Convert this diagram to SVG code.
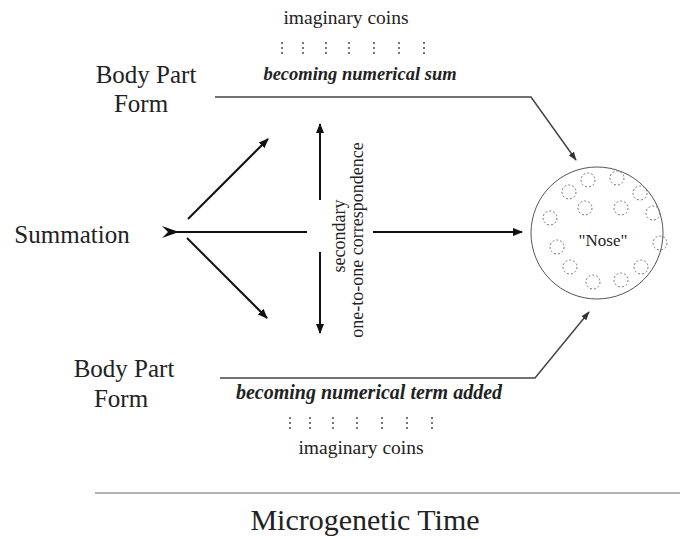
<svg xmlns="http://www.w3.org/2000/svg" width="681" height="539" viewBox="0 0 681 539">
<defs>
<style>
.t{font-family:"Liberation Serif","Times New Roman",serif;fill:#222}
.bi{font-family:"Liberation Serif","Times New Roman",serif;font-weight:bold;font-style:italic;fill:#222}
.ar{stroke:#111;stroke-width:2;fill:none}
.cn{stroke:#444;stroke-width:1.5;fill:none}
.dc{fill:none;stroke:#777;stroke-width:1;stroke-dasharray:2,2}
.dt{stroke:#555;stroke-width:1.6;stroke-dasharray:2,3}
</style>
<marker id="ah" viewBox="0 0 10 10" refX="9" refY="5" markerWidth="10" markerHeight="10" markerUnits="userSpaceOnUse" orient="auto">
<path d="M0,1 L10,5 L0,9 Z" fill="#111"/>
</marker>
<marker id="ah2" viewBox="0 0 10 10" refX="9" refY="5" markerWidth="9" markerHeight="9" markerUnits="userSpaceOnUse" orient="auto">
<path d="M0,1.5 L10,5 L0,8.5 Z" fill="#333"/>
</marker>
</defs>
<rect width="681" height="539" fill="#fff"/>

<g id="body-part-top">
<text class="t" x="146" y="83" font-size="25" text-anchor="middle">Body Part</text>
<text class="t" x="141" y="112" font-size="25" text-anchor="middle">Form</text>
</g>
<g id="body-part-bottom">
<text class="t" x="124" y="377" font-size="25" text-anchor="middle">Body Part</text>
<text class="t" x="121" y="407" font-size="25" text-anchor="middle">Form</text>
</g>
<g id="summation">
<text class="t" x="72" y="243" font-size="25" text-anchor="middle">Summation</text>
<path d="M162,226 L179,232 L162,238 L168,232 Z" fill="#111"/>
</g>

<g id="coins-top">
<text class="t" x="346" y="24" font-size="19.5" text-anchor="middle">imaginary coins</text>
<g class="dt">
<line x1="282" y1="42" x2="282" y2="55"/>
<line x1="303" y1="42" x2="303" y2="55"/>
<line x1="326" y1="42" x2="326" y2="55"/>
<line x1="349" y1="42" x2="349" y2="55"/>
<line x1="374" y1="42" x2="374" y2="55"/>
<line x1="399" y1="42" x2="399" y2="55"/>
<line x1="424" y1="42" x2="424" y2="55"/>
</g>
<text class="bi" x="360" y="80" font-size="18.5" text-anchor="middle">becoming numerical sum</text>
</g>

<g id="coins-bottom">
<text class="bi" x="369" y="399" font-size="20" text-anchor="middle">becoming numerical term added</text>
<g class="dt">
<line x1="290" y1="417" x2="290" y2="430"/>
<line x1="310" y1="417" x2="310" y2="430"/>
<line x1="333" y1="417" x2="333" y2="430"/>
<line x1="357" y1="417" x2="357" y2="430"/>
<line x1="382" y1="417" x2="382" y2="430"/>
<line x1="407" y1="417" x2="407" y2="430"/>
<line x1="432" y1="417" x2="432" y2="430"/>
</g>
<text class="t" x="361" y="454" font-size="19.5" text-anchor="middle">imaginary coins</text>
</g>

<g id="correspondence">
<text class="t" font-size="18" text-anchor="middle" transform="translate(345,236) rotate(-90)">secondary</text>
<text class="t" font-size="18" text-anchor="middle" transform="translate(363,240) rotate(-90)">one-to-one correspondence</text>
</g>

<g id="nose">
<circle cx="597" cy="233" r="66" fill="none" stroke="#555" stroke-width="1"/>
<g class="dc">
<circle cx="588" cy="180" r="7"/>
<circle cx="617" cy="178" r="7"/>
<circle cx="569" cy="192" r="7"/>
<circle cx="640" cy="193" r="7"/>
<circle cx="585" cy="208" r="7"/>
<circle cx="621" cy="208" r="7"/>
<circle cx="550" cy="218" r="7"/>
<circle cx="653" cy="213" r="7"/>
<circle cx="557" cy="247" r="7"/>
<circle cx="660" cy="243" r="7"/>
<circle cx="570" cy="267" r="7"/>
<circle cx="641" cy="267" r="7"/>
<circle cx="593" cy="282" r="7"/>
<circle cx="621" cy="280" r="7"/>
</g>
<text class="t" x="603" y="246" font-size="17" text-anchor="middle">"Nose"</text>
</g>

<g id="connectors">
<line class="ar" x1="170" y1="232" x2="307" y2="232" stroke-width="2.5"/>
<line class="ar" x1="373" y1="232" x2="522" y2="232" stroke-width="2.5" marker-end="url(#ah)"/>
<line class="ar" x1="188" y1="219" x2="268" y2="139" marker-end="url(#ah)"/>
<line class="ar" x1="187" y1="238" x2="267" y2="318" marker-end="url(#ah)"/>
<line class="ar" x1="320" y1="200" x2="320" y2="124" marker-end="url(#ah)"/>
<line class="ar" x1="320" y1="252" x2="320" y2="333" marker-end="url(#ah)"/>
<polyline class="cn" points="215,97 531,97 576,160" marker-end="url(#ah2)"/>
<polyline class="cn" points="220,378 535,378 589,312" marker-end="url(#ah2)"/>
<line x1="95" y1="493" x2="680" y2="493" stroke="#666" stroke-width="1"/>
</g>

<g id="time">
<text class="t" x="365" y="530" font-size="30" text-anchor="middle">Microgenetic Time</text>
</g>
</svg>
